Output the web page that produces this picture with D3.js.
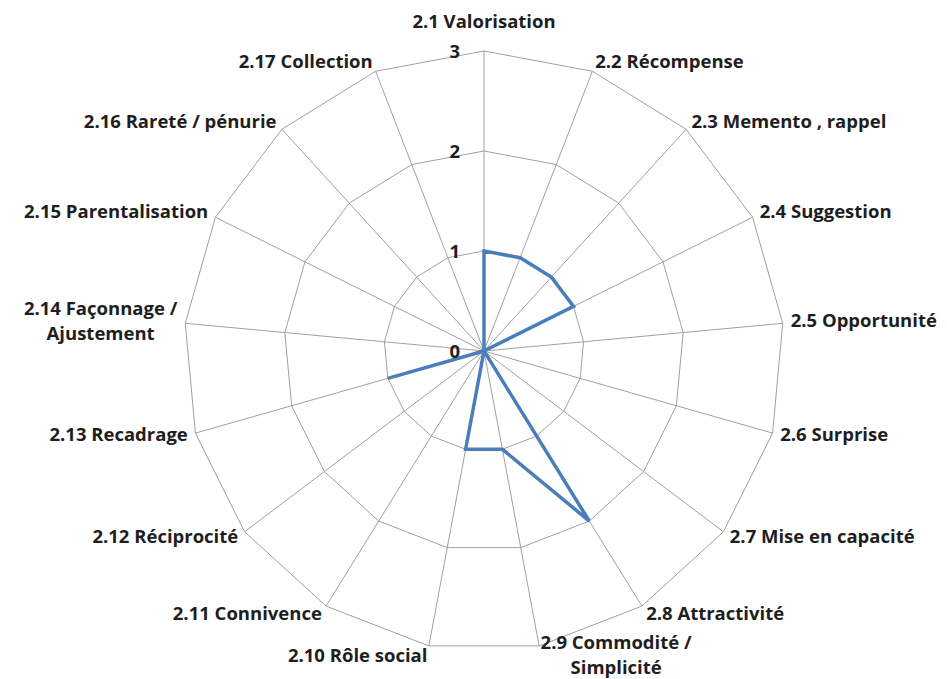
<html>
<script src="https://d3js.org/d3.v7.min.js"></script>
<body style="margin:0;background:#fff"></body>
<script>
const categories = [
  "2.1 Valorisation", "2.2 Récompense", "2.3 Memento , rappel", "2.4 Suggestion",
  "2.5 Opportunité", "2.6 Surprise", "2.7 Mise en capacité", "2.8 Attractivité",
  "2.9 Commodité /|Simplicité", "2.10 Rôle social", "2.11 Connivence", "2.12 Réciprocité",
  "2.13 Recadrage", "2.14 Façonnage /|Ajustement", "2.15 Parentalisation",
  "2.16 Rareté / pénurie", "2.17 Collection"
];
const values = [1, 1, 1, 1, 0, 0, 0, 2, 1, 1, 0, 0, 1, 0, 0, 0, 0];
const ticks = [0, 1, 2, 3];

const width = 947;
const height = 679;
const cx = 484, cy = 351, R = 300;
const font = "'Open Sans', sans-serif";
const fs = '18.5px';

const svg = d3.select('body').append('svg')
  .attr('width', width)
  .attr('height', height)
  .style('font-family', font);

const g = svg.append('g').attr('transform', `translate(${cx},${cy})`);

const r = d3.scaleLinear().domain([0, 3]).range([0, R]);
const angle = d3.scaleLinear().domain([0, categories.length]).range([0, 2 * Math.PI]);
const pt = (i, v) => [Math.sin(angle(i)) * r(v), -Math.cos(angle(i)) * r(v)];

// grid polygons
const ring = d3.lineRadial()
  .angle((d, i) => angle(i))
  .radius(d => r(d))
  .curve(d3.curveLinearClosed);

g.selectAll('path.grid')
  .data(ticks.filter(t => t > 0))
  .enter().append('path')
  .attr('class', 'grid')
  .attr('d', t => ring(categories.map(() => t)))
  .attr('fill', 'none')
  .attr('stroke', '#a0a0a0')
  .attr('stroke-width', 1);

// spokes
g.selectAll('line.spoke')
  .data(categories)
  .enter().append('line')
  .attr('class', 'spoke')
  .attr('x1', 0).attr('y1', 0)
  .attr('x2', (d, i) => pt(i, 3)[0])
  .attr('y2', (d, i) => pt(i, 3)[1])
  .attr('stroke', '#a0a0a0')
  .attr('stroke-width', 1);

// series
g.append('path')
  .attr('d', ring(values))
  .attr('fill', 'none')
  .attr('stroke', '#4a7ebb')
  .attr('stroke-width', 3.5)
  .attr('stroke-linejoin', 'miter');

// tick labels
g.selectAll('text.tick')
  .data(ticks)
  .enter().append('text')
  .attr('class', 'tick')
  .attr('x', -24)
  .attr('y', t => -r(t) + 2)
  .attr('text-anchor', 'end')
  .attr('dominant-baseline', 'middle')
  .style('font-size', fs)
  .style('font-weight', 700)
  .attr('fill', '#1e1e1e')
  .text(t => t);

// category labels
const lineH = 25;
categories.forEach((c, i) => {
  const lines = c.split('|');
  const s = Math.sin(angle(i)), co = Math.cos(angle(i));
  const [vx, vy] = pt(i, 3);
  let anchor = Math.abs(s) < 0.05 ? 'middle' : (s > 0 ? 'start' : 'end');
  let ax = vx + s * 8;
  let ay;
  if (anchor === 'middle') ay = vy - co * 28;
  else ay = co > 0 ? vy - 9 * co : vy - co * 11;

  const tg = g.append('g');
  const texts = lines.map(l => tg.append('text')
    .style('font-size', fs)
    .style('font-weight', 700)
    .attr('fill', '#1e1e1e')
    .attr('dominant-baseline', 'middle')
    .text(l));
  const widths = texts.map(t => t.node().getComputedTextLength());
  const bw = d3.max(widths);
  const left = anchor === 'start' ? ax : anchor === 'end' ? ax - bw : ax - bw / 2;
  const top = ay - (lines.length - 1) * lineH / 2;
  texts.forEach((t, k) => {
    t.attr('text-anchor', 'middle')
      .attr('x', left + bw / 2)
      .attr('y', top + k * lineH);
  });
});
</script>
</html>
